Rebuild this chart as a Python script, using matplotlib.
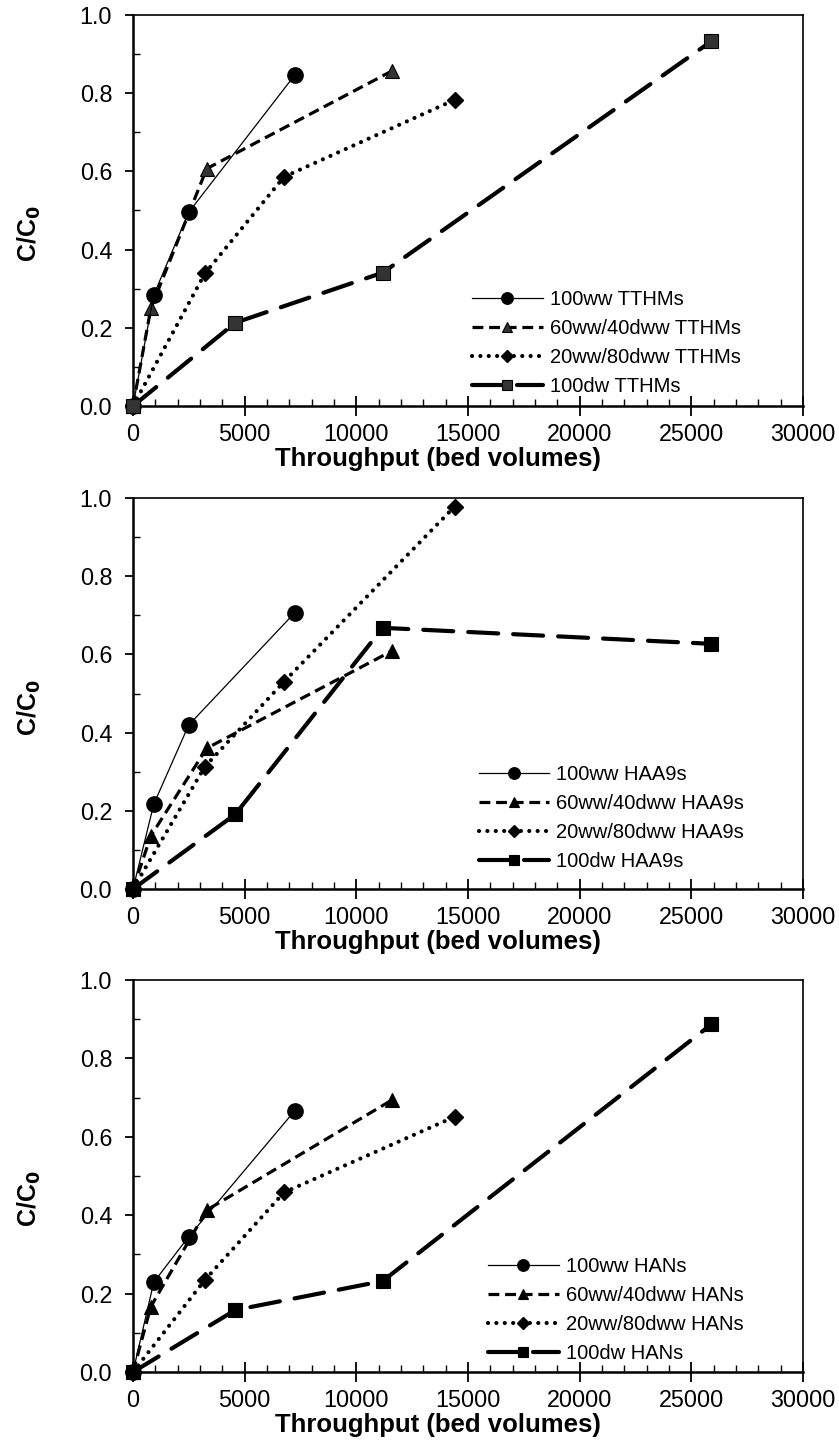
import matplotlib.pyplot as plt
from matplotlib.ticker import MultipleLocator

plt.rcParams['font.family'] = ['Liberation Sans', 'DejaVu Sans']

# throughput (bed volumes), shared by all three panels
x_100ww = [0, 930, 2490, 7250]
x_60ww = [0, 800, 3300, 11600]
x_20ww = [0, 3220, 6760, 14400]
x_100dw = [0, 4580, 11180, 25900]

# C/C0 for each DBP group
tthm_100ww = [0, 0.284, 0.495, 0.847]
tthm_60ww = [0, 0.25, 0.607, 0.857]
tthm_20ww = [0, 0.339, 0.586, 0.783]
tthm_100dw = [0, 0.213, 0.341, 0.933]

haa_100ww = [0, 0.217, 0.419, 0.707]
haa_60ww = [0, 0.136, 0.360, 0.609]
haa_20ww = [0, 0.313, 0.530, 0.978]
haa_100dw = [0, 0.191, 0.668, 0.627]

han_100ww = [0, 0.229, 0.345, 0.667]
han_60ww = [0, 0.167, 0.413, 0.694]
han_20ww = [0, 0.235, 0.458, 0.651]
han_100dw = [0, 0.158, 0.232, 0.887]

groups = ['TTHMs', 'HAA9s', 'HANs']
panels = [
    (tthm_100ww, tthm_60ww, tthm_20ww, tthm_100dw),
    (haa_100ww, haa_60ww, haa_20ww, haa_100dw),
    (han_100ww, han_60ww, han_20ww, han_100dw),
]

W, H = 839, 1443
fig = plt.figure(figsize=(W / 100, H / 100), dpi=100)

# axes boxes in pixels: (left, top, right, bottom)
boxes = [(133, 15, 803, 406), (133, 498, 803, 889), (133, 980, 803, 1372)]
legend_pos = [(0.506, 0.296), (0.516, 0.317), (0.530, 0.293)]
ylabel_y = [0.442, 0.463, 0.441]
grey_fill = ['#333333', 'black', 'black']

for i, (box, ys) in enumerate(zip(boxes, panels)):
    l, t, r, b = box
    ax = fig.add_axes([l / W, (H - b) / H, (r - l) / W, (b - t) / H])
    g = groups[i]
    y1, y2, y3, y4 = ys

    ax.plot(x_100ww, y1, color='black', lw=0.9, marker='o', ms=11,
            mfc='black', mec='black', label=f'100ww {g}', zorder=4, clip_on=False)
    ax.plot(x_60ww, y2, color='black', lw=2.3, ls=(0, (3.4, 1.8)), marker='^', ms=10,
            mfc=grey_fill[i], mec='black', mew=0.8, label=f'60ww/40dww {g}', zorder=3,
            clip_on=False)
    ax.plot(x_20ww, y3, color='black', lw=3.0, ls=(0, (0.01, 2.0)), dash_capstyle='round',
            marker='D', ms=8, mfc='black', mec='black', label=f'20ww/80dww {g}', zorder=3,
            clip_on=False)
    ax.plot(x_100dw, y4, color='black', lw=3, ls=(0, (7.2, 3.6)), dash_capstyle='round',
            marker='s', ms=10, mfc=grey_fill[i], mec='black', mew=0.8,
            label=f'100dw {g}', zorder=5, clip_on=False)

    ax.set_xlim(0, 30000)
    ax.set_ylim(0, 1.0)
    ax.xaxis.set_major_locator(MultipleLocator(5000))
    ax.xaxis.set_minor_locator(MultipleLocator(1000))
    ax.yaxis.set_major_locator(MultipleLocator(0.2))
    ax.yaxis.set_minor_locator(MultipleLocator(0.1))
    ax.yaxis.set_major_formatter(plt.FormatStrFormatter('%.1f'))

    ax.tick_params(axis='x', which='major', direction='inout', length=14, width=1.3,
                   labelsize=16.8, pad=5)
    ax.tick_params(axis='x', which='minor', direction='in', length=5, width=1)
    ax.tick_params(axis='y', which='major', direction='out', length=6, width=1.3,
                   labelsize=16.8, pad=9)
    ax.tick_params(axis='y', which='minor', direction='in', length=5, width=1)

    for side in ['left', 'bottom']:
        ax.spines[side].set_linewidth(1.8)
    for side in ['top', 'right']:
        ax.spines[side].set_linewidth(1.2)

    ax.set_xlabel('Throughput (bed volumes)', fontsize=18.5, fontweight='bold')
    ax.xaxis.set_label_coords(0.455, -0.104)
    ax.set_ylabel('C/C$_\\mathbf{0}$', fontsize=18, fontweight='bold')
    ax.yaxis.set_label_coords(-0.134, ylabel_y[i])

    ax.legend(loc='upper left', bbox_to_anchor=legend_pos[i], frameon=False,
              fontsize=14.5, handlelength=3.5, handletextpad=0.35, numpoints=1,
              labelspacing=0.5, borderpad=0, borderaxespad=0, markerscale=0.75)

fig.savefig('out.png', dpi=100)
